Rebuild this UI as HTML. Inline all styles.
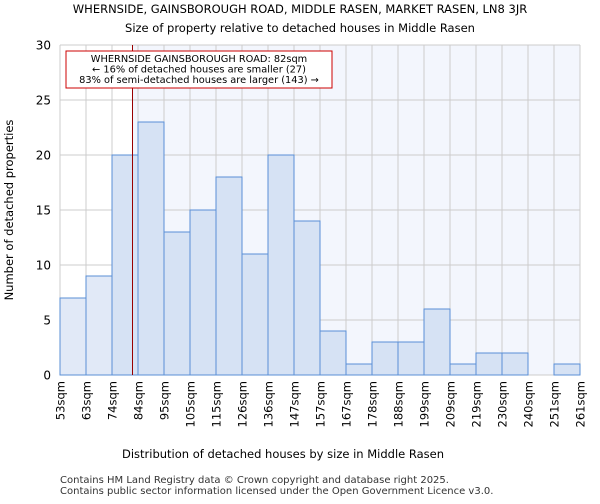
<!DOCTYPE html>
<html><head><meta charset="utf-8"><style>
body{margin:0;background:#fff;font-family:"DejaVu Sans","Liberation Sans",sans-serif;}
</style></head><body>
<svg width="600" height="500" xmlns="http://www.w3.org/2000/svg" font-family="DejaVu Sans, Liberation Sans, sans-serif">
<text x="300" y="13" font-size="11.5" text-anchor="middle">WHERNSIDE, GAINSBOROUGH ROAD, MIDDLE RASEN, MARKET RASEN, LN8 3JR</text>
<text x="300" y="32" font-size="11.5" text-anchor="middle">Size of property relative to detached houses in Middle Rasen</text>
<g id="plot"></g>
<text x="283" y="458" font-size="11.5" text-anchor="middle">Distribution of detached houses by size in Middle Rasen</text>
<text transform="translate(13,210) rotate(-90)" font-size="11.5" text-anchor="middle">Number of detached properties</text>
<text x="60" y="483" font-size="10" fill="#333">Contains HM Land Registry data © Crown copyright and database right 2025.</text>
<text x="60" y="494" font-size="10" fill="#333">Contains public sector information licensed under the Open Government Licence v3.0.</text>
</svg>
<script>
const categories=["53sqm","63sqm","74sqm","84sqm","95sqm","105sqm","115sqm","126sqm","136sqm","147sqm","157sqm","167sqm","178sqm","188sqm","199sqm","209sqm","219sqm","230sqm","240sqm","251sqm","261sqm"];
const values=[7,9,20,23,13,15,18,11,20,14,4,1,3,3,6,1,2,2,0,1];
const yTicks=[0,5,10,15,20,25,30];
const binStart=53, binWidth=10.4, subjectSize=82;
const L=60,R=580,T=45,B=375,yMax=30;
const n=values.length;
const xS=i=>L+(R-L)*i/n;
const xV=v=>L+(R-L)*(v-binStart)/(binWidth*n);
const yS=v=>B-(B-T)*v/yMax;
const g=document.getElementById('plot');
const ns='http://www.w3.org/2000/svg';
function mk(t,a){const e=document.createElementNS(ns,t);for(const k in a)e.setAttribute(k,a[k]);g.appendChild(e);return e;}
const lx=xV(subjectSize);
let e=mk('rect',{x:lx,y:T,width:R-lx,height:B-T,fill:'#f3f6fd'});


for(let i=0;i<=n;i++){e=mk('line',{x1:xS(i),x2:xS(i),y1:T,y2:B,stroke:'#cccccc','stroke-width':1});

}
yTicks.forEach(t=>{e=mk('line',{x1:L,x2:R,y1:yS(t),y2:yS(t),stroke:'#cccccc','stroke-width':1});


e=mk('text',{x:L-9,y:yS(t)+4.5,'font-size':12,'text-anchor':'end'});e.textContent=t;

});
values.forEach((v,i)=>{if(v<=0)return;e=mk('rect',{x:xS(i),y:yS(v),width:xS(i+1)-xS(i),height:B-yS(v),fill:xS(i+1)<=lx?'#e1e9f7':'#d6e2f4',stroke:'#5a8fd6','stroke-width':1});

});
categories.forEach((c,i)=>{const x=xS(i);e=mk('text',{transform:`translate(${x+4.5},381) rotate(-90)`,'font-size':11.5,'text-anchor':'end'});e.textContent=c;

});
e=mk('line',{x1:lx,x2:lx,y1:T,y2:B,stroke:'#990000','stroke-width':1});


e=mk('rect',{x:66,y:51,width:266,height:37,fill:'#fff',stroke:'#cc0000','stroke-width':1});


["WHERNSIDE GAINSBOROUGH ROAD: 82sqm","← 16% of detached houses are smaller (27)","83% of semi-detached houses are larger (143) →"].forEach((s,k)=>{e=mk('text',{x:199,y:62+k*10.5,'font-size':9.8,'text-anchor':'middle'});e.textContent=s;

});
</script>
</body></html>
